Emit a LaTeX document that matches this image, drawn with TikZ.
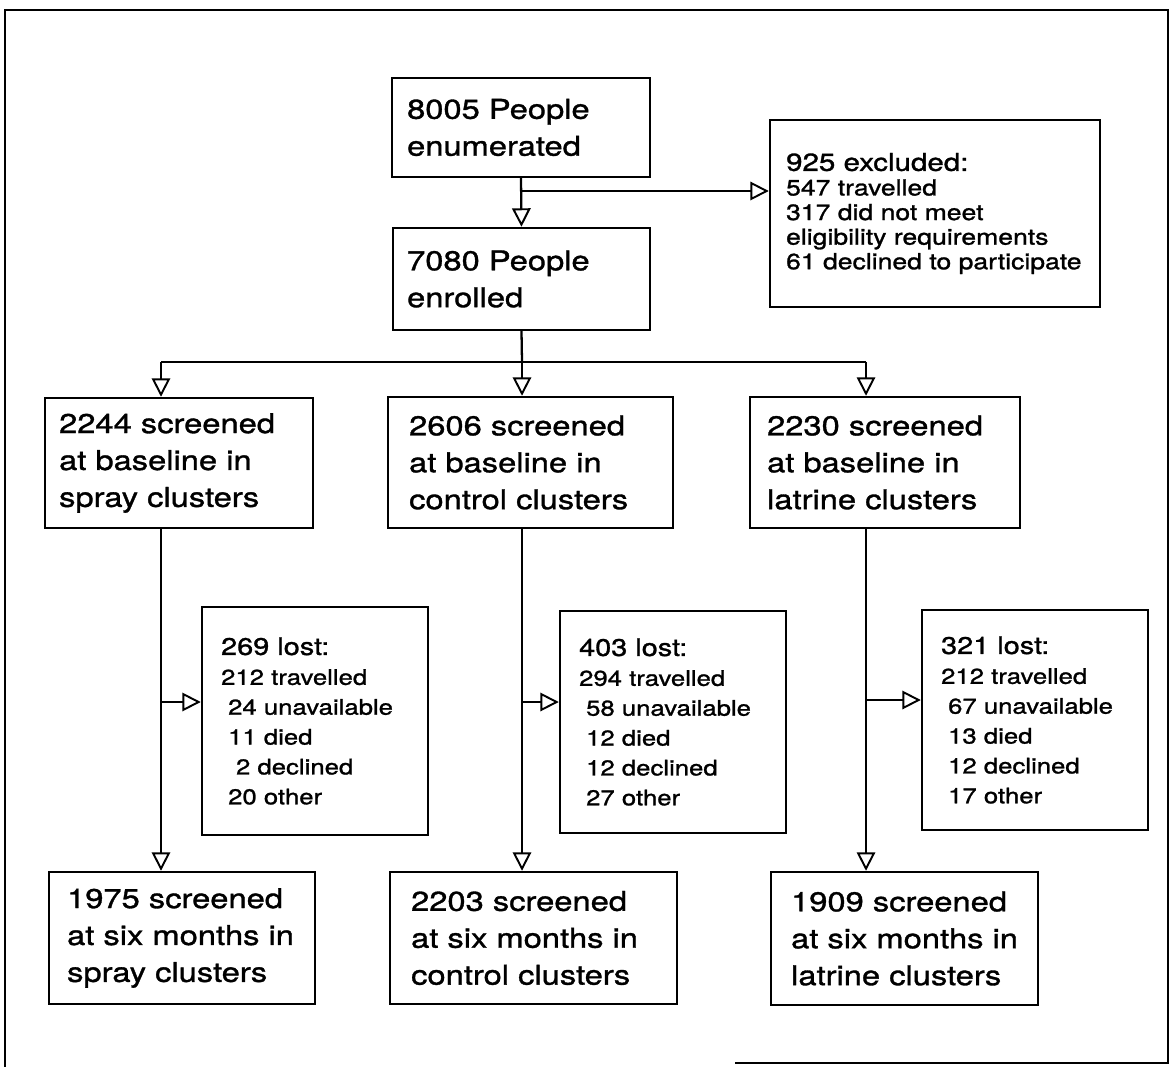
\documentclass[tikz,border=0pt]{standalone}
\usepackage{fontspec}
\setmainfont{TeX Gyre Heros}[FakeStretch=1.2,FakeBold=1.2]
\usetikzlibrary{arrows.meta,fit,calc}
\newcommand{\indnt}{\hspace*{4pt}}

\begin{document}
\begin{tikzpicture}[x=0.02cm,y=-0.02cm,
  box/.style={draw=black,line width=1.4pt,inner sep=0pt},
  conn/.style={line width=1.3pt},
  arr/.style={line width=1.3pt,-{Triangle[open,length=10.5pt,width=10.5pt,line width=1.1pt]}},
  bigtext/.style={anchor=west,align=left,inner sep=0pt,font=\fontsize{15.5}{21}\selectfont},
  listtext/.style={anchor=west,align=left,inner sep=0pt,font=\fontsize{12.6}{14}\selectfont},
  losttext/.style={anchor=west,align=left,inner sep=0pt,font=\fontsize{12.2}{17}\selectfont}]
\useasboundingbox (0,0) rectangle (1176,1067);
% frame
\draw[line width=1.4pt] (5,1067) -- (5,10) -- (1168,10) -- (1168,1063) -- (735,1063);
% top boxes
\node[box,fit={(392,78) (650,177)}] (enum) {};
\node[bigtext] (enumtext) at ($(enum.west)+(16,0)$) {8005 People\\enumerated};
\node[box,fit={(393,228) (650,330)}] (enrol) {};
\node[bigtext] (enroltext) at ($(enrol.west)+(15,0)$) {7080 People\\enrolled};
\node[box,fit={(770,120) (1100,307)}] (excl) {};
\node[listtext] (excltext) at ($(excl.west)+(17,0)$) {{\fontsize{14}{14}\selectfont 925 excluded:}\\547 travelled\\317 did not meet\\eligibility requirements\\61 declined to participate};
% baseline boxes
\node[box,fit={(45,398) (313,528)}] (sprayA) {};
\node[bigtext] (sprayAtext) at ($(sprayA.west)+(15,0)$) {2244 screened\\at baseline in\\spray clusters};
\node[box,fit={(388,397) (673,528)}] (ctrlA) {};
\node[bigtext] (ctrlAtext) at ($(ctrlA.west)+(22,0)$) {2606 screened\\at baseline in\\control clusters};
\node[box,fit={(750,397) (1020,528)}] (latA) {};
\node[bigtext] (latAtext) at ($(latA.west)+(18,0)$) {2230 screened\\at baseline in\\latrine clusters};
% lost boxes
\node[box,fit={(202,607) (428,835)}] (sprayL) {};
\node[losttext] (sprayLtext) at ($(sprayL.west)+(20,0)$) {{\fontsize{13.7}{17}\selectfont 269 lost:}\\212 travelled\\\indnt 24 unavailable\\\indnt 11 died\\\hspace*{8.5pt}2 declined\\\indnt 20 other};
\node[box,fit={(560,611) (786,833)}] (ctrlL) {};
\node[losttext] (ctrlLtext) at ($(ctrlL.west)+(20,0)$) {{\fontsize{13.7}{17}\selectfont 403 lost:}\\294 travelled\\\indnt 58 unavailable\\\indnt 12 died\\\indnt 12 declined\\\indnt 27 other};
\node[box,fit={(922,610) (1148,830)}] (latL) {};
\node[losttext] (latLtext) at ($(latL.west)+(20,0)$) {{\fontsize{13.7}{17}\selectfont 321 lost:}\\212 travelled\\\indnt 67 unavailable\\\indnt 13 died\\\indnt 12 declined\\\indnt 17 other};
% six month boxes
\node[box,fit={(49,872) (315,1004)}] (sprayB) {};
\node[bigtext] (sprayBtext) at ($(sprayB.west)+(19,0)$) {1975 screened\\at six months in\\spray clusters};
\node[box,fit={(390,872) (677,1004)}] (ctrlB) {};
\node[bigtext] (ctrlBtext) at ($(ctrlB.west)+(22,0)$) {2203 screened\\at six months in\\control clusters};
\node[box,fit={(771,872) (1038,1005)}] (latB) {};
\node[bigtext] (latBtext) at ($(latB.west)+(21,0)$) {1909 screened\\at six months in\\latrine clusters};
% connectors
\coordinate (split) at (521,191);
\coordinate (hub) at (522,362);
\coordinate (hubS) at (161,362);
\coordinate (hubL) at (866,362);
\draw[arr] (enum.south) -- (enrol.north);
\draw[arr] (split) -- (split -| excl.west);
\draw[conn] (enrol.south) -- (hub);
\draw[conn] (hubS) -- (hubL);
\draw[arr] (hubS) -- (hubS |- sprayA.north);
\draw[arr] (hub) -- (hub |- ctrlA.north);
\draw[arr] (hubL) -- (hubL |- latA.north);
\draw[arr] (sprayA.south -| hubS) -- (sprayB.north -| hubS);
\draw[arr] (ctrlA.south -| hub) -- (ctrlB.north -| hub);
\draw[arr] (latA.south -| hubL) -- (latB.north -| hubL);
\coordinate (sprayoff) at (161,702);
\coordinate (ctrloff) at (522,702);
\coordinate (latoff) at (866,700);
\draw[arr] (sprayoff) -- (sprayoff -| sprayL.west);
\draw[arr] (ctrloff) -- (ctrloff -| ctrlL.west);
\draw[arr] (latoff) -- (latoff -| latL.west);
\end{tikzpicture}
\end{document}
